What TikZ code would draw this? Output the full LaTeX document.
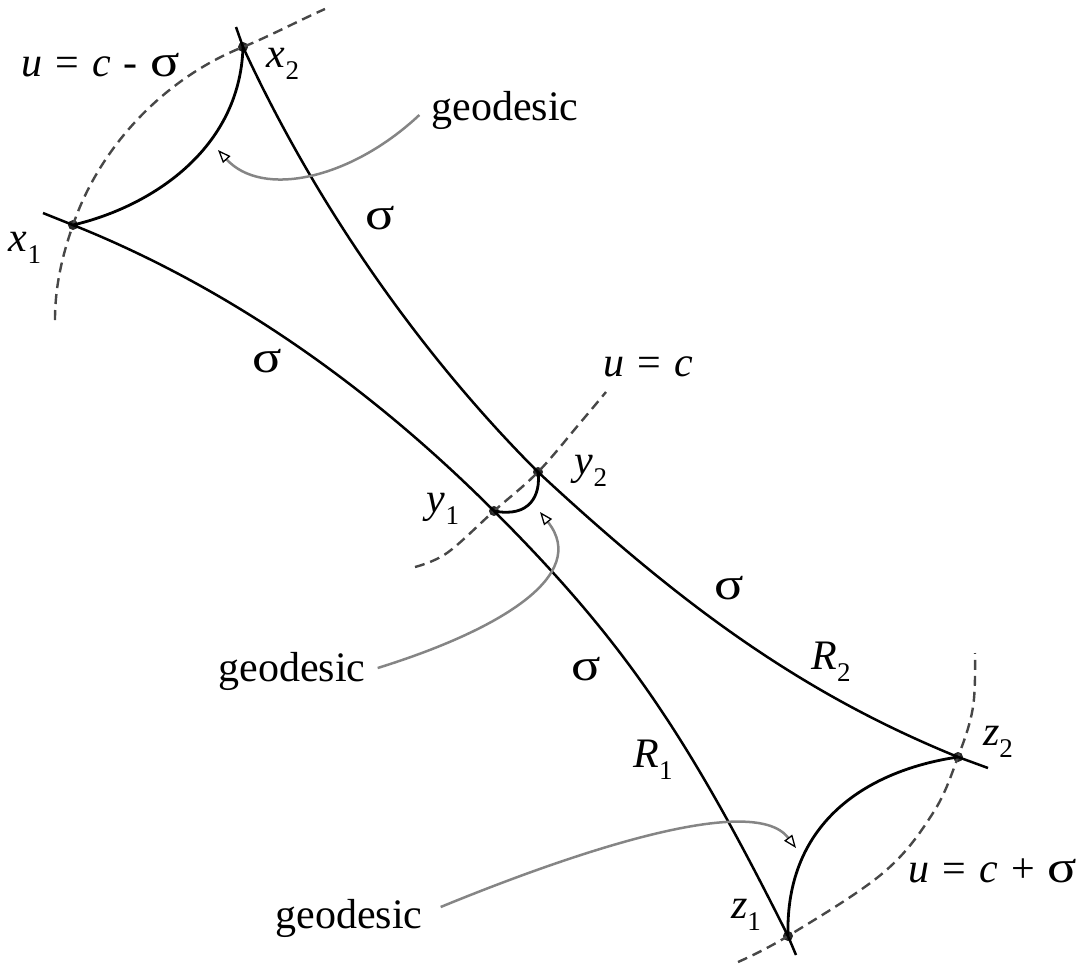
\documentclass[tikz,border=0pt]{standalone}
\usepackage{fontspec}
\setmainfont{Liberation Serif}
\usetikzlibrary{arrows.meta}
\newcommand{\sbs}[1]{\raisebox{-0.28em}{\fontsize{27}{29}\selectfont #1}}
\newcommand{\sig}{\scalebox{1.3}[1.08]{σ}}
\newcommand{\gp}{\hspace{13pt}}
\begin{document}
\begin{tikzpicture}[x=1pt,y=-1pt,
  geo/.style={line width=2.8pt, black, line cap=round},
  cur/.style={line width=2.5pt, black},
  lvl/.style={line width=2.4pt, dash pattern=on 10pt off 6pt, black!72},
  ptr/.style={line width=2.5pt, black!48, -{Triangle[open,length=13pt,width=10pt,line width=1.3pt,color=black]}},
  dot/.style={circle, fill=black!85, inner sep=0pt, minimum size=10pt},
  lab/.style={font=\fontsize{42}{46}\selectfont, inner sep=0pt}
]
\useasboundingbox (0,0) rectangle (1085,967);

% points
\node[dot] (x2) at (243,47) {};
\node[dot] (x1) at (73,225) {};
\node[dot] (y1) at (494,511) {};
\node[dot] (y2) at (538,472) {};
\node[dot] (z1) at (788,936) {};
\node[dot] (z2) at (958,757) {};

% level curves (dashed)
\draw[lvl] (55,320) coordinate (d0) .. controls (55,287) and (62,256) .. (x1.center)
  .. controls (100,146) and (165,78) .. (x2.center)
  .. controls (270,36) and (300,20) .. (325,9) coordinate (d1);
\draw[lvl] plot[smooth, tension=0.6] coordinates {(415,567) (447,553) (y1.center) (y2.center) (580,423) (606,392)};
\draw[lvl] plot[smooth, tension=0.6] coordinates {(738,962) (z1.center) (883,873) (933,813) (z2.center) (973,707) (975,653)};

% main curves
\draw[cur] (x1.center) ++(-30,-12) coordinate (a0) -- (x1.center)
  .. controls (223,285) and (364,381) .. (y1.center)
  .. controls (624,641) and (688,736) .. (z1.center) -- ++(8,19) coordinate (a1);
\draw[cur] (x2.center) ++(-7,-20) coordinate (b0) -- (x2.center)
  .. controls (314,201) and (418,352) .. (y2.center)
  .. controls (678,602) and (798,692) .. (z2.center) -- ++(30,11) coordinate (b1);

% geodesics
\draw[geo] (x1.center) .. controls (150,207) and (240,150) .. (x2.center);
\draw[geo] (y1.center) .. controls (530,518) and (541,495) .. (y2.center);
\draw[geo] (z1.center) .. controls (785,820) and (870,770) .. (z2.center);

% labels
\node[lab] (lc1) at (101,65) {\textit{u}\gp=\gp\textit{c}\gp-\gp\sig};
\node[lab] (lx2) at (283,64) {\textit{x}\sbs{2}};
\node[lab] (g1) at (505,110) {geodesic};
\node[lab] (s1) at (380,218) {\sig};
\node[lab] (lx1) at (25,248) {\textit{x}\sbs{1}};
\node[lab] (s2) at (267,361) {\sig};
\node[lab] (lc0) at (648,367) {\textit{u}\gp=\gp\textit{c}};
\node[lab] (ly2) at (591,471) {\textit{y}\sbs{2}};
\node[lab] (ly1) at (443,509) {\textit{y}\sbs{1}};
\node[lab] (s3) at (729,588) {\sig};
\node[lab] (g2) at (292,671) {geodesic};
\node[lab] (s4) at (586,669) {\sig};
\node[lab] (lr2) at (831,662) {\textit{R}\sbs{2}};
\node[lab] (lz2) at (998,742) {\textit{z}\sbs{2}};
\node[lab] (lr1) at (653,760) {\textit{R}\sbs{1}};
\node[lab] (lc2) at (993,871) {\textit{u}\gp=\gp\textit{c}\gp+\gp\sig};
\node[lab] (lz1) at (746,915) {\textit{z}\sbs{1}};
\node[lab] (g3) at (349,918) {geodesic};

% pointers
\draw[ptr] (g1.west) ++(-12,5) coordinate (p1) .. controls (350,180) and (262,198) .. (218,150);
\draw[ptr] (g2.east) ++(12,-3) coordinate (p2) .. controls (500,630) and (590,575) .. (540,512);
\draw[ptr] (g3.east) ++(18,-11) coordinate (p3) .. controls (560,858) and (752,790) .. (796,848);
\end{tikzpicture}
\end{document}
